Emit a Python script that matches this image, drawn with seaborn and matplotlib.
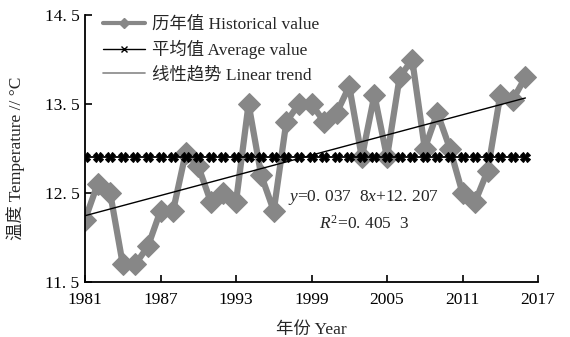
import matplotlib
matplotlib.use("Agg")
import matplotlib.pyplot as plt
import seaborn as sns
import pandas as pd
import numpy as np
from matplotlib.lines import Line2D

years = list(range(1981, 2017))
hist_values = [12.2, 12.6, 12.5, 11.7, 11.7, 11.9, 12.3, 12.3, 12.95, 12.8,
               12.4, 12.5, 12.4, 13.5, 12.7, 12.3, 13.3, 13.5, 13.5, 13.3,
               13.4, 13.7, 12.9, 13.6, 12.9, 13.8, 14.0, 13.0, 13.4, 13.0,
               12.5, 12.4, 12.75, 13.6, 13.55, 13.8]
average_value = 12.9
trend_slope = 0.0378
trend_intercept = 12.207
x_ticks = [1981, 1987, 1993, 1999, 2005, 2011, 2017]
y_ticks = [11.5, 12.5, 13.5, 14.5]
y_tick_labels = ["11. 5", "12. 5", "13. 5", "14. 5"]
legend_labels = ["历年值 Historical value", "平均值 Average value", "线性趋势 Linear trend"]

sns.set_theme(style="ticks")
plt.rcParams['font.family'] = ['Liberation Serif', 'Noto Sans CJK SC']
plt.rcParams['mathtext.fontset'] = 'custom'
plt.rcParams['mathtext.rm'] = 'Liberation Serif'
plt.rcParams['mathtext.it'] = 'Liberation Serif:italic'

idx = np.arange(1, len(years) + 1)
df = pd.DataFrame({
    "year": years,
    "hist": hist_values,
    "avg": [average_value] * len(years),
    "trend": trend_intercept + trend_slope * idx,
})

fig = plt.figure(figsize=(5.7, 3.37), dpi=100)
ax = fig.add_axes([85 / 570, 55 / 337, (538 - 85) / 570, (282 - 15) / 337])

gray = "#878787"
sns.lineplot(data=df, x="year", y="hist", ax=ax, color=gray, linewidth=4.5,
             marker="D", markersize=11.5, markeredgecolor=gray, markerfacecolor=gray,
             zorder=2)
sns.lineplot(data=df, x="year", y="avg", ax=ax, color="black", linewidth=1.3,
             marker="X", markersize=7, markeredgecolor="black", markerfacecolor="black",
             zorder=3)
sns.lineplot(data=df, x="year", y="trend", ax=ax, color="black", linewidth=1.0, zorder=4)

ax.set_xlim(1981, 2017)
ax.set_ylim(11.5, 14.5)
ax.set_xticks(x_ticks)
ax.set_xticklabels([str(t) for t in x_ticks])
ax.set_yticks(y_ticks)
ax.set_yticklabels(y_tick_labels)
ax.tick_params(direction="in", length=5, width=1.2, labelsize=12.5, colors="black", pad=4)
ax.tick_params(axis="x", pad=7)
for s in ["top", "right"]:
    ax.spines[s].set_visible(False)
for s in ["left", "bottom"]:
    ax.spines[s].set_linewidth(1.3)
    ax.spines[s].set_color("black")

ax.set_xlabel("年份 Year", fontsize=12.5, labelpad=10)
ax.set_ylabel("温度 Temperature // °C", fontsize=12.5)
ax.yaxis.set_label_coords(-0.133, 0.465)

ax.text(0.615, 0.315, r"$y$=0. 037  8$x$+12. 207", transform=ax.transAxes,
        fontsize=12.5, ha="center", va="center")
ax.text(0.615, 0.22, r"$R^2$=0. 405  3", transform=ax.transAxes,
        fontsize=12.5, ha="center", va="center")

handles = [
    Line2D([], [], color=gray, linewidth=3, marker="D", markersize=5, markerfacecolor=gray, markeredgecolor=gray),
    Line2D([], [], color="black", linewidth=1, marker="x", markersize=4),
    Line2D([], [], color=gray, linewidth=1.2),
]
leg = ax.legend(handles, legend_labels, loc="upper left", bbox_to_anchor=(0.025, 1.02),
                frameon=False, fontsize=12.5, handlelength=2.4, handletextpad=0.4,
                labelspacing=0.42, borderaxespad=0)

fig.savefig("out.png", dpi=100)
